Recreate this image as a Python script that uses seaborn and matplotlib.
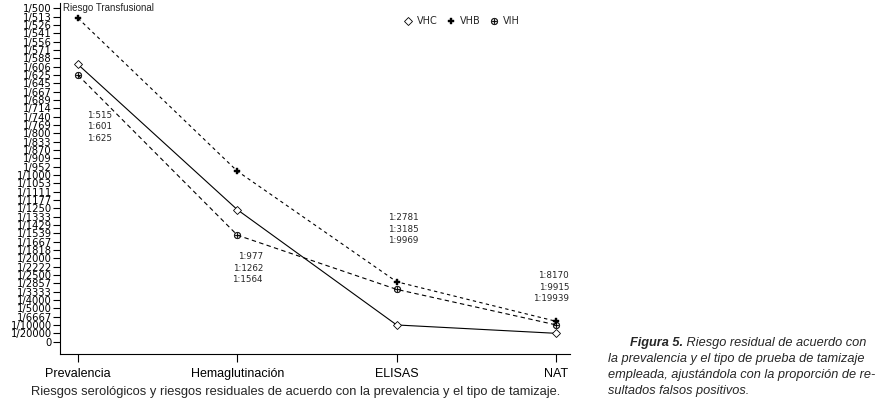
import numpy as np
import pandas as pd
import seaborn as sns
import matplotlib.pyplot as plt
from matplotlib.lines import Line2D

# data (residual risk 1:N)
pruebas = ["Prevalencia", "Hemaglutinación", "ELISAS", "NAT"]
vhb_n = [515, 977, 2781, 8170]
vhc_n = [601, 1262, 9969, 19939]
vih_n = [625, 1564, 3185, 9915]

ytick_labels = ["0", "1/20000", "1/10000", "1/6667", "1/5000", "1/4000", "1/3333",
                "1/2857", "1/2500", "1/2222", "1/2000", "1/1818", "1/1667", "1/1539",
                "1/1429", "1/1333", "1/1250", "1/1177", "1/1111", "1/1053", "1/1000",
                "1/952", "1/909", "1/870", "1/833", "1/800", "1/769", "1/740", "1/714",
                "1/689", "1/667", "1/645", "1/625", "1/606", "1/588", "1/571", "1/556",
                "1/541", "1/526", "1/513", "1/500"]
ytick_step = 0.00005

caption_first = "Riesgo residual de acuerdo con"
caption_lines = ["la prevalencia y el tipo de prueba de tamizaje",
                 "empleada, ajustándola con la proporción de re-",
                 "sultados falsos positivos."]
xlabel = "Riesgos serológicos y riesgos residuales de acuerdo con la prevalencia y el tipo de tamizaje."

sns.set_style("ticks")
plt.rcParams['font.family'] = ['Liberation Sans', 'DejaVu Sans']
small = ['DejaVu Sans']

rows = []
for virus, ns in [("VHB", vhb_n), ("VHC", vhc_n), ("VIH", vih_n)]:
    for p, n in zip(pruebas, ns):
        rows.append({"virus": virus, "prueba": p, "riesgo": 1.0 / n})
df = pd.DataFrame(rows)

fig = plt.figure(figsize=(8.76, 4.07), dpi=100)
ax = fig.add_axes([60/876, 1-354/407, 510/876, 351/407])

styles = {
    "VHC": dict(marker="D", markersize=4, markerfacecolor="white", markeredgecolor="black",
                markeredgewidth=0.6, linestyle="-", linewidth=0.8),
    "VHB": dict(marker="P", markersize=5, markerfacecolor="black", markeredgecolor="black",
                markeredgewidth=0.3, linestyle=(0, (3, 3)), linewidth=0.8),
    "VIH": dict(marker="$\\oplus$", markersize=5, markerfacecolor="black", markeredgecolor="black",
                markeredgewidth=0.2, linestyle=(0, (4, 3)), linewidth=0.8),
}
for virus in ["VHC", "VHB", "VIH"]:
    sub = df[df.virus == virus]
    sns.lineplot(data=sub, x="prueba", y="riesgo", color="black", ax=ax, **styles[virus])

ax.set_xlim(-0.113, 3.088)
ax.set_ylim(-0.000074, 0.002033)
ax.set_yticks(np.arange(len(ytick_labels)) * ytick_step)
ax.set_yticklabels(ytick_labels, family=small)
ax.tick_params(axis="y", length=5, width=0.8, labelsize=7.2, pad=1, colors="black")
ax.tick_params(axis="x", length=6, width=0.8, labelsize=9, pad=4, colors="black")
ax.set_xticks(range(len(pruebas)))
ax.set_xticklabels(pruebas)
for s in ["top", "right"]:
    ax.spines[s].set_visible(False)
for s in ["left", "bottom"]:
    ax.spines[s].set_linewidth(0.8)
    ax.spines[s].set_color("black")
ax.set_ylabel("")
ax.set_xlabel(xlabel, fontsize=9.3, va="center")
ax.xaxis.set_label_coords((296 - 60) / 510, (354 - 392) / 351)
ax.grid(False)

ax.text(0.005, 0.9995, "Riesgo Transfusional", transform=ax.transAxes, fontsize=7,
        va="top", ha="left")

# value labels per test
lab_kw = dict(fontsize=6.3, family=small, linespacing=1.35, va="center")
def block(i):
    return "\n".join(f"1:{n}" for n in sorted([vhb_n[i], vhc_n[i], vih_n[i]]))
ax.text(0.056, 0.001289, block(0), ha="left", **lab_kw)
ax.text(1.161, 0.000442, block(1), ha="right", **lab_kw)
ax.text(1.946, 0.000676, block(2), ha="left", **lab_kw)
ax.text(3.082, 0.000328, block(3), ha="right", **lab_kw)

handles = [
    Line2D([], [], linestyle="none", color="black",
           **{k: v for k, v in styles[v].items() if k not in ("linestyle", "linewidth")})
    for v in ["VHC", "VHB", "VIH"]
]
fig.legend(handles, ["VHC", "VHB", "VIH"], loc="center", bbox_to_anchor=(462/876, 1-21/407),
           ncol=3, frameon=False, handlelength=0.8, handletextpad=0.5, columnspacing=1.0,
           prop={"family": small, "size": 7})

cap_kw = dict(fontsize=9.2, style="italic", va="center", ha="left")
t1 = fig.text(630/876, 1-343/407, "Figura 5.", weight="bold", **cap_kw)
ax.annotate(" " + caption_first, xy=(1, 0), xycoords=t1, va="bottom", ha="left",
            fontsize=9.2, style="italic", annotation_clip=False)
for i, line in enumerate(caption_lines):
    fig.text(608/876, 1-(359 + 16*i)/407, line, **cap_kw)

fig.savefig("out.png", dpi=100)
